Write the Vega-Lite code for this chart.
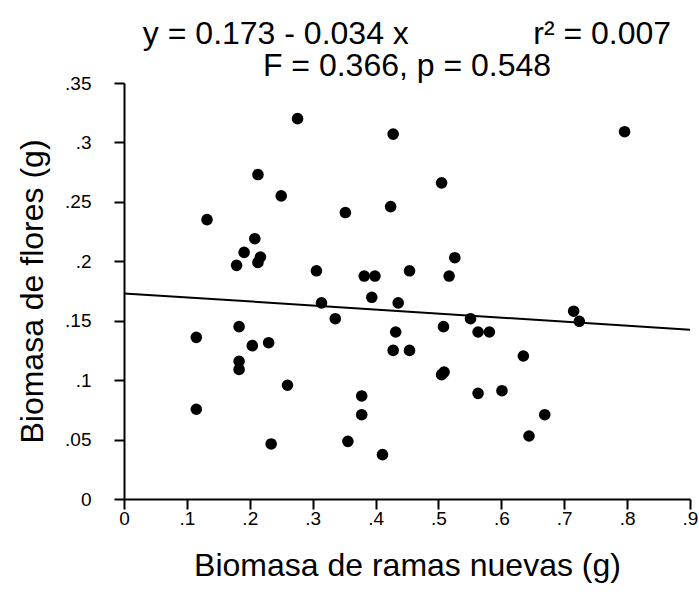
{
  "$schema": "https://vega.github.io/schema/vega-lite/v6.json",
  "autosize": "none",
  "width": 566,
  "height": 416,
  "padding": {"left": 124, "top": 83, "right": 9, "bottom": 111},
  "background": "white",
  "config": {
    "view": {"stroke": null},
    "font": "Liberation Sans"
  },
  "title": {
    "text": ["y = 0.173 - 0.034 x\u00a0\u00a0\u00a0\u00a0\u00a0\u00a0\u00a0\u00a0\u00a0\u00a0\u00a0\u00a0\u00a0\u00a0r² = 0.007\u00a0\u00a0", "F = 0.366, p = 0.548"],
    "font": "Liberation Sans",
    "fontSize": 32,
    "fontWeight": "normal",
    "color": "black",
    "anchor": "middle",
    "lineHeight": 32,
    "offset": 8,
    "dy": 17
  },
  "datasets": {
    "points": [
      {"x": 0.276, "y": 0.320}, {"x": 0.428, "y": 0.307}, {"x": 0.796, "y": 0.309},
      {"x": 0.213, "y": 0.273}, {"x": 0.250, "y": 0.255}, {"x": 0.505, "y": 0.266},
      {"x": 0.352, "y": 0.241}, {"x": 0.424, "y": 0.246}, {"x": 0.132, "y": 0.235},
      {"x": 0.208, "y": 0.219}, {"x": 0.191, "y": 0.2075}, {"x": 0.217, "y": 0.2036},
      {"x": 0.213, "y": 0.199}, {"x": 0.179, "y": 0.1966}, {"x": 0.306, "y": 0.192},
      {"x": 0.382, "y": 0.1876}, {"x": 0.399, "y": 0.1876}, {"x": 0.526, "y": 0.203},
      {"x": 0.454, "y": 0.192}, {"x": 0.517, "y": 0.1876}, {"x": 0.314, "y": 0.165},
      {"x": 0.336, "y": 0.1517}, {"x": 0.394, "y": 0.1697}, {"x": 0.436, "y": 0.165},
      {"x": 0.115, "y": 0.136}, {"x": 0.183, "y": 0.145}, {"x": 0.204, "y": 0.129},
      {"x": 0.230, "y": 0.1315}, {"x": 0.432, "y": 0.1405}, {"x": 0.428, "y": 0.125},
      {"x": 0.183, "y": 0.1158}, {"x": 0.183, "y": 0.109}, {"x": 0.260, "y": 0.0957},
      {"x": 0.378, "y": 0.0867}, {"x": 0.378, "y": 0.0709}, {"x": 0.115, "y": 0.0755},
      {"x": 0.234, "y": 0.0463}, {"x": 0.356, "y": 0.0485}, {"x": 0.411, "y": 0.0373},
      {"x": 0.454, "y": 0.125}, {"x": 0.508, "y": 0.145}, {"x": 0.551, "y": 0.1517},
      {"x": 0.563, "y": 0.1405}, {"x": 0.581, "y": 0.1405}, {"x": 0.715, "y": 0.158},
      {"x": 0.724, "y": 0.1495}, {"x": 0.635, "y": 0.1203}, {"x": 0.505, "y": 0.1046},
      {"x": 0.509, "y": 0.1068}, {"x": 0.563, "y": 0.0889}, {"x": 0.601, "y": 0.0911},
      {"x": 0.669, "y": 0.0709}, {"x": 0.644, "y": 0.053}
    ],
    "fit": [
      {"x": 0.0, "y": 0.173},
      {"x": 0.9, "y": 0.1424}
    ]
  },
  "layer": [
    {
      "data": {"name": "fit"},
      "mark": {"type": "line", "color": "black", "strokeWidth": 2, "clip": true},
      "encoding": {
        "x": {"field": "x", "type": "quantitative"},
        "y": {"field": "y", "type": "quantitative"}
      }
    },
    {
      "data": {"name": "points"},
      "mark": {"type": "circle", "color": "black", "opacity": 1, "size": 135},
      "encoding": {
        "x": {
          "field": "x", "type": "quantitative",
          "scale": {"domain": [0, 0.9], "nice": false, "zero": true},
          "axis": {
            "title": "Biomasa de ramas nuevas (g)",
            "titleFont": "Liberation Sans", "titleFontSize": 32, "titleFontWeight": "normal",
            "titleColor": "black", "titlePadding": 22,
            "values": [0, 0.05, 0.1, 0.15, 0.2, 0.25, 0.3, 0.35, 0.4, 0.45, 0.5, 0.55, 0.6, 0.65, 0.7, 0.75, 0.8, 0.85, 0.9],
            "labelExpr": "round(datum.value*20) % 2 == 0 ? (datum.value == 0 ? '0' : replace(format(datum.value, '.1~f'), '0.', '.')) : ''",
            "labelFont": "Liberation Sans", "labelFontSize": 19, "labelColor": "black",
            "labelPadding": 0, "labelFlush": false, "labelOverlap": false,
            "grid": false,
            "domainColor": "black", "domainWidth": 2,
            "tickColor": "black", "tickWidth": 2,
            "tickSize": {"condition": {"test": "round(datum.value*20) % 2 == 0", "value": 10}, "value": 5}
          }
        },
        "y": {
          "field": "y", "type": "quantitative",
          "scale": {"domain": [0, 0.35], "nice": false, "zero": true},
          "axis": {
            "title": "Biomasa de flores (g)",
            "titleFont": "Liberation Sans", "titleFontSize": 32, "titleFontWeight": "normal",
            "titleColor": "black", "titlePadding": 15,
            "values": [0, 0.025, 0.05, 0.075, 0.1, 0.125, 0.15, 0.175, 0.2, 0.225, 0.25, 0.275, 0.3, 0.325, 0.35],
            "labelExpr": "round(datum.value*40) % 2 == 0 ? (datum.value == 0 ? '0' : replace(format(datum.value, '.2~f'), '0.', '.')) : ''",
            "labelFont": "Liberation Sans", "labelFontSize": 19, "labelColor": "black",
            "labelPadding": 23, "labelFlush": false, "labelOverlap": false,
            "grid": false,
            "domainColor": "black", "domainWidth": 2,
            "tickColor": "black", "tickWidth": 2,
            "tickSize": {"condition": {"test": "round(datum.value*40) % 2 == 0", "value": 10}, "value": 5}
          }
        }
      }
    }
  ]
}
